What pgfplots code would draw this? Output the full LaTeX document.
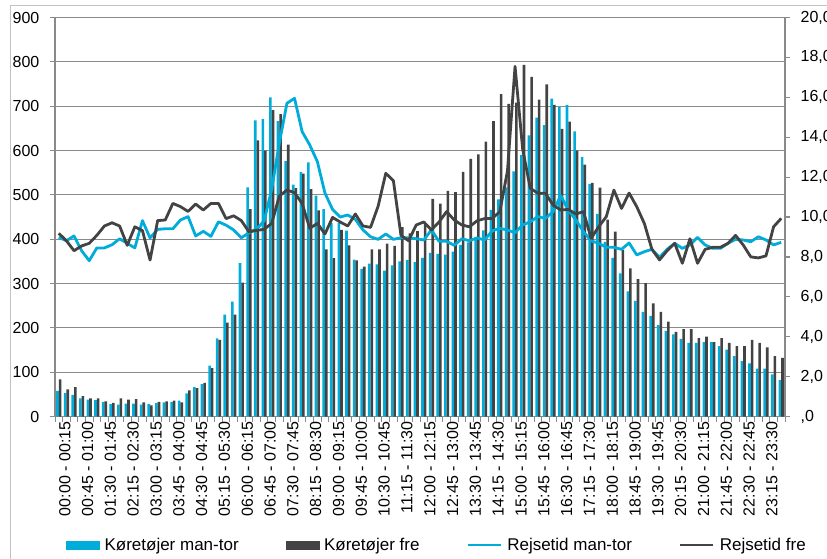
\documentclass[border=0pt]{standalone}
\usepackage{fontspec}
\setmainfont{Liberation Sans}
\usepackage{pgfplots}
\usepackage{pgfplotstable}
\pgfplotsset{compat=1.18}

\definecolor{kcyan}{RGB}{0,172,218}
\definecolor{kdark}{RGB}{67,67,67}
\definecolor{kgrid}{RGB}{138,138,138}
\definecolor{kframe}{RGB}{195,195,195}

% i = 15-minutes interval (0 = 00:00-00:15)
% kmt/kfr = vehicles mon-thu / fri, rmt/rfr = travel time mon-thu / fri
\pgfplotstableread{
i  kmt kfr  rmt   rfr
0  58  84   8.98  9.18
1  53  61   8.81  8.81
2  49  66   9.05  8.31
3  41  46   8.31  8.55
4  38  41   7.81  8.68
5  37  41   8.45  9.08
6  33  34   8.45  9.55
7  28  31   8.61  9.71
8  27  41   8.91  9.55
9  29  38   8.68  8.58
10 29  39   8.45  9.51
11 27  32   9.82  9.32
12 28  25   8.95  7.84
13 30  33   9.38  9.82
14 32  34   9.41  9.85
15 33  36   9.41  10.68
16 36  32   9.85  10.52
17 52  59   10.02 10.28
18 66  64   9.05  10.65
19 73  76   9.28  10.35
20 115 109  9.03  10.68
21 176 173  9.76  10.68
22 230 212  9.59  9.92
23 259 230  9.35  10.06
24 346 302  8.96  9.82
25 517 468  9.20  9.26
26 668 623  9.40  9.33
27 671 600  9.80  9.38
28 720 691  11.40 9.68
29 666 682  13.70 11.05
30 576 613  15.70 11.35
31 523 515  15.95 11.22
32 551 548  14.28 10.68
33 573 513  13.61 9.43
34 498 465  12.78 9.68
35 468 377  11.20 9.15
36 436 357  10.38 9.98
37 436 421  10.00 9.75
38 419 386  10.10 9.55
39 354 352  9.88  10.15
40 333 338  9.35  9.55
41 345 377  9.01  9.48
42 343 377  8.88  10.55
43 329 390  9.15  12.19
44 341 385  8.88  11.82
45 350 427  8.96  9.08
46 353 413  8.96  8.81
47 348 418  8.91  9.60
48 358 436  8.85  9.75
49 369 491  9.35  9.35
50 367 480  8.78  9.75
51 365 509  8.78  10.27
52 372 506  8.58  9.85
53 387 552  8.91  9.60
54 393 581  8.81  9.51
55 399 591  8.95  9.81
56 420 620  8.85  9.92
57 466 666  9.31  9.93
58 490 727  9.43  10.27
59 517 705  9.35  12.30
60 553 708  9.21  17.55
61 590 793  9.60  13.40
62 634 766  9.76  11.44
63 674 715  10.02 11.19
64 657 749  9.93  11.19
65 717 703  10.27 10.60
66 698 649  11.08 10.35
67 703 665  10.35 10.38
68 643 600  9.85  10.15
69 585 568  9.26  10.27
70 525 527  8.81  8.93
71 457 516  8.68  9.51
72 394 444  8.48  10.02
73 358 417  8.48  11.35
74 323 376  8.38  10.43
75 282 334  8.70  11.20
76 261 310  8.10  10.52
77 236 301  8.26  9.68
78 227 255  8.38  8.38
79 206 236  7.98  7.85
80 193 214  8.38  8.31
81 185 191  8.68  8.68
82 175 197  8.43  7.68
83 166 197  8.60  8.91
84 166 177  8.98  7.68
85 168 180  8.60  8.38
86 168 168  8.43  8.48
87 159 177  8.43  8.48
88 151 166  8.68  8.68
89 136 159  8.88  9.08
90 125 159  8.85  8.60
91 120 173  8.76  8.00
92 108 166  9.01  7.95
93 108 156  8.85  8.05
94 95  136  8.60  9.51
95 82  132  8.73  9.93
}\trafik

\begin{document}
\begin{tikzpicture}
\useasboundingbox (0,0) rectangle (827pt,558pt);
\draw[kframe, line width=1pt] (10pt,-20pt) -- (10pt,552pt) -- (860pt,552pt);

\begin{axis}[
    at={(55pt,141.5pt)}, anchor=south west,
    width=730pt, height=399pt, scale only axis,
    xmin=-0.5, xmax=95.5, ymin=0, ymax=900,
    axis x line*=bottom, axis y line*=left,
    axis line style={kgrid, line width=1.2pt, -},
    ytick={0,100,...,900},
    ymajorgrids, grid style={kgrid, line width=1.2pt},
    tick align=outside, major tick length=5pt, minor tick length=5pt,
    major tick style={kgrid, line width=1.2pt},
    major x tick style={draw=none},
    minor x tick style={kgrid, line width=1pt},
    minor xtick={-0.5,0.5,...,95.5},
    xtick={0,3,...,93},
    xticklabels={00:00 - 00:15, 00:45 - 01:00, 01:30 - 01:45, 02:15 - 02:30,
      03:00 - 03:15, 03:45 - 04:00, 04:30 - 04:45, 05:15 - 05:30,
      06:00 - 06:15, 06:45 - 07:00, 07:30 - 07:45, 08:15 - 08:30,
      09:00 - 09:15, 09:45 - 10:00, 10:30 - 10:45, 11:15 - 11:30,
      12:00 - 12:15, 12:45 - 13:00, 13:30 - 13:45, 14:15 - 14:30,
      15:00 - 15:15, 15:45 - 16:00, 16:30 - 16:45, 17:15 - 17:30,
      18:00 - 18:15, 18:45 - 19:00, 19:30 - 19:45, 20:15 - 20:30,
      21:00 - 21:15, 21:45 - 22:00, 22:30 - 22:45, 23:15 - 23:30},
    xticklabel style={font=\fontsize{16}{18}\selectfont, rotate=90, anchor=east, inner sep=0pt, yshift=-6pt},
    yticklabel style={font=\fontsize{16}{18}\selectfont, inner sep=0pt, xshift=-10.5pt},
    /pgf/number format/assume math mode=true,
]
\addplot[ybar, bar width=2.6pt, bar shift=-1.3pt, fill=kcyan, draw=none] table[x=i, y=kmt] {\trafik};
\addplot[ybar, bar width=2.6pt, bar shift=1.3pt, fill=kdark, draw=none] table[x=i, y=kfr] {\trafik};
\end{axis}

\begin{axis}[
    at={(55pt,141.5pt)}, anchor=south west,
    width=730pt, height=399pt, scale only axis,
    xmin=-0.5, xmax=95.5, ymin=0, ymax=20,
    axis x line=none, axis y line*=right,
    axis line style={kgrid, line width=1.2pt, -},
    ytick={0,2,...,20},
    yticklabels={{,0},{2,0},{4,0},{6,0},{8,0},{10,0},{12,0},{14,0},{16,0},{18,0},{20,0}},
    tick align=outside, major tick length=5pt,
    major tick style={kgrid, line width=1.2pt},
    yticklabel style={font=\fontsize{16}{18}\selectfont, anchor=west, inner sep=0pt, xshift=10.5pt},
    legend columns=4,
    legend cell align=left,
    legend style={at={(0.015,-0.322)}, anchor=west, draw=none, fill=none, inner sep=0pt,
      font=\fontsize{17}{19}\selectfont,
      /tikz/every even column/.append style={column sep=45pt},
      /tikz/every odd column/.append style={column sep=3pt}},
]
\addlegendimage{legend image code/.code={\fill[kcyan] (0pt,-4pt) rectangle (33pt,4pt);}}
\addlegendentry{Køretøjer man-tor}
\addlegendimage{legend image code/.code={\fill[kdark] (0pt,-4pt) rectangle (33pt,4pt);}}
\addlegendentry{Køretøjer fre}
\addplot[kcyan, line width=2.8pt, line join=round, no markers,
  legend image code/.code={\draw[kcyan, line width=2.8pt] (0pt,0pt) -- (33pt,0pt);}]
  table[x=i, y=rmt] {\trafik};
\addlegendentry{Rejsetid man-tor}
\addplot[kdark, line width=2.8pt, line join=round, no markers,
  legend image code/.code={\draw[kdark, line width=2.8pt] (0pt,0pt) -- (33pt,0pt);}]
  table[x=i, y=rfr] {\trafik};
\addlegendentry{Rejsetid fre}
\end{axis}
\end{tikzpicture}
\end{document}
